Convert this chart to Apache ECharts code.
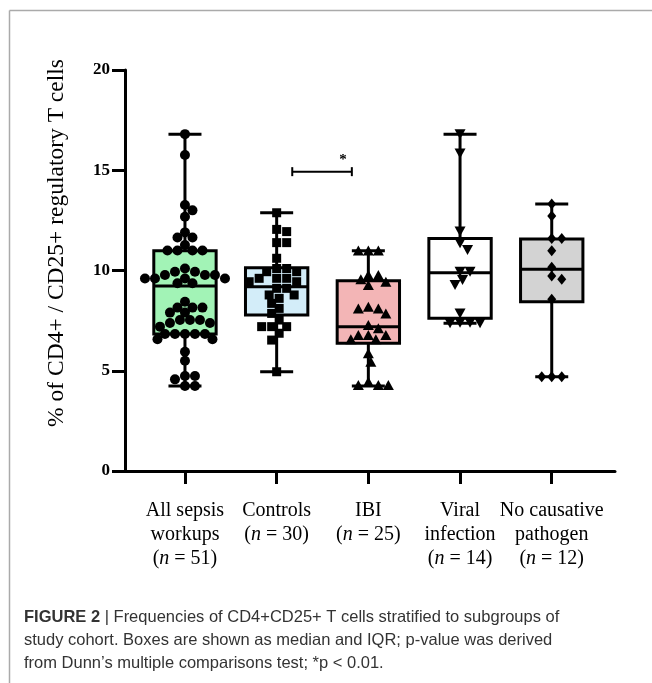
<!DOCTYPE html>
<html><head><meta charset="utf-8">
<script src="https://cdn.jsdelivr.net/npm/echarts@6/dist/echarts.min.js"></script>
<style>html,body{margin:0;padding:0;background:#fff}#c{width:652px;height:683px}</style>
</head><body><div id="c"></div>
<script>
// ---- data ----
const categoryLines = [['All sepsis','workups'],['Controls'],['IBI'],['Viral','infection'],['No causative','pathogen']];
const groupN = [51, 30, 25, 14, 12];
const boxMin    = [4.24, 4.95, 4.24, 7.37, 4.70];
const boxQ1     = [6.83, 7.78, 6.37, 7.62, 8.44];
const boxMedian = [9.23, 9.19, 7.20, 9.89, 10.06];
const boxQ3     = [10.99, 10.14, 9.49, 11.60, 11.57];
const boxMax    = [16.80, 12.88, 10.99, 16.80, 13.32];
const boxColors = ['#a2f3b6', '#d3edf9', '#f3b5b6', '#ffffff', '#d3d3d3'];

const allSepsis = [16.8,15.76,13.27,13.0,12.68,11.9,11.65,11.65,11.27,11.0,11.0,11.0,11.0,10.1,9.94,9.94,9.78,9.78,9.78,9.6,9.6,9.6,9.6,9.36,9.36,8.44,8.15,8.15,8.15,7.9,7.9,7.53,7.53,7.53,7.38,7.38,7.2,6.83,6.83,6.83,6.83,6.83,6.57,6.57,5.95,5.5,4.74,4.74,4.57,4.24,4.24];
const controls = [12.88,12.05,11.94,11.39,11.39,10.61,10.1,10.1,9.94,9.94,9.61,9.61,9.61,9.44,9.44,9.11,9.11,8.78,8.78,8.61,8.36,8.11,7.86,7.53,7.2,7.2,7.2,6.87,6.53,4.95];
const ibi = [11.0,11.0,11.0,9.78,9.78,9.56,9.44,9.28,8.19,8.11,8.11,7.86,7.28,7.12,6.78,6.78,6.78,6.57,6.57,5.87,5.45,4.45,4.29,4.29,4.29];
const viral = [16.8,15.84,11.94,11.36,11.02,9.94,9.94,9.53,9.28,7.86,7.4,7.4,7.37,7.37];
const noCause = [13.32,12.72,11.6,11.6,10.99,10.16,9.73,9.56,8.56,4.7,4.7,4.7];
const groupPoints = [allSepsis, controls, ibi, viral, noCause];
const groupSymbols = ['circle', 'rect', 'triangle', 'triangle', 'diamond'];
const groupSymbolRotate = [0, 0, 0, 180, 0];
const groupSymbolSize = [10, 9, [11, 10], [11, 10], [9, 11]];

const yTicks = [0, 5, 10, 15, 20];
const sigFrom = 1.17, sigTo = 1.82, sigY = 14.93, sigLabel = '*';

const yTitle = '% of CD4+ / CD25+ regulatory T cells';
const captionBold = 'FIGURE 2';
const captionLines = [' | Frequencies of CD4+CD25+ T cells stratified to subgroups of',
  'study cohort. Boxes are shown as median and IQR; p-value was derived',
  'from Dunn\u2019s multiple comparisons test; *p < 0.01.'];

// ---- chart ----
const chart = echarts.init(document.getElementById('c'));
const serif = '"Liberation Serif","Times New Roman",serif';
const sans = '"Liberation Sans",Arial,sans-serif';

function labelFor(i) {
  return categoryLines[i].map(l => '{t|' + l + '}').join('\n') + '\n{t|(}{i|n}{t| = ' + groupN[i] + ')}';
}

const boxData = boxMin.map((m, i) => [i, boxMin[i], boxQ1[i], boxMedian[i], boxQ3[i], boxMax[i]]);

function renderBox(params, api) {
  const x = api.value(0);
  const band = api.size([1, 0])[0];
  const bw = band * 0.68, cw = band * 0.36;
  const pMin = api.coord([x, api.value(1)]);
  const pQ1 = api.coord([x, api.value(2)]);
  const pMed = api.coord([x, api.value(3)]);
  const pQ3 = api.coord([x, api.value(4)]);
  const pMax = api.coord([x, api.value(5)]);
  const cx = pMed[0];
  const ls = {stroke: '#000', lineWidth: 3};
  return {type: 'group', children: [
    {type: 'line', shape: {x1: cx, y1: pMax[1], x2: cx, y2: pMin[1]}, style: ls},
    {type: 'line', shape: {x1: cx - cw/2, y1: pMax[1], x2: cx + cw/2, y2: pMax[1]}, style: ls},
    {type: 'line', shape: {x1: cx - cw/2, y1: pMin[1], x2: cx + cw/2, y2: pMin[1]}, style: ls},
    {type: 'rect', shape: {x: cx - bw/2, y: pQ3[1], width: bw, height: pQ1[1] - pQ3[1]},
      style: {fill: boxColors[params.dataIndex], stroke: '#000', lineWidth: 3}},
    {type: 'line', shape: {x1: cx - bw/2, y1: pMed[1], x2: cx + bw/2, y2: pMed[1]}, style: ls}
  ]};
}

function renderSig(params, api) {
  const a = api.coord([api.value(0), api.value(2)]);
  const b = api.coord([api.value(1), api.value(2)]);
  const s = {stroke: '#000', lineWidth: 2};
  const starX = a[0] + 0.85 * (b[0] - a[0]);
  return {type: 'group', children: [
    {type: 'line', shape: {x1: a[0], y1: a[1], x2: b[0], y2: b[1]}, style: s},
    {type: 'line', shape: {x1: a[0], y1: a[1] - 4.5, x2: a[0], y2: a[1] + 4.5}, style: s},
    {type: 'line', shape: {x1: b[0], y1: b[1] - 4.5, x2: b[0], y2: b[1] + 4.5}, style: s},
    {type: 'text', x: starX, y: a[1] - 12, style: {text: sigLabel, fill: '#000', font: 'bold 15px ' + serif, align: 'center', verticalAlign: 'middle'}}
  ]};
}

const option = {
  animation: false,
  backgroundColor: '#fff',
  grid: {left: 125, right: 37, top: 70, bottom: 212, containLabel: false, outerBoundsMode: 'none'},
  xAxis: {
    type: 'value', min: -0.654, max: 4.69,
    splitLine: {show: false},
    axisLine: {show: true, onZero: false, lineStyle: {color: '#000', width: 3}},
    axisTick: {show: true, customValues: [0, 1, 2, 3, 4], length: 13, lineStyle: {color: '#000', width: 3}},
    axisLabel: {
      customValues: [0, 1, 2, 3, 4], margin: 28,
      formatter: v => labelFor(Math.round(v)),
      rich: {
        t: {fontFamily: serif, fontSize: 20, lineHeight: 24, color: '#000'},
        i: {fontFamily: serif, fontSize: 20, lineHeight: 24, color: '#000', fontStyle: 'italic'}
      }
    }
  },
  yAxis: {
    type: 'value', min: 0, max: 20, interval: 5,
    splitLine: {show: false},
    axisLine: {show: true, onZero: false, lineStyle: {color: '#000', width: 3}},
    axisTick: {show: true, length: 13, lineStyle: {color: '#000', width: 3}},
    axisLabel: {color: '#000', fontFamily: serif, fontWeight: 'bold', fontSize: 17, margin: 15,
      formatter: v => yTicks.indexOf(v) >= 0 ? String(v) : ''}
  },
  graphic: [
    {type: 'line', shape: {x1: 9.5, y1: 10.5, x2: 652, y2: 10.5}, style: {stroke: '#aaa', lineWidth: 1.5}},
    {type: 'line', shape: {x1: 9.5, y1: 10.5, x2: 9.5, y2: 683}, style: {stroke: '#aaa', lineWidth: 1.5}},
    {type: 'text', x: 57, y: 243, rotation: Math.PI / 2,
      style: {text: yTitle, font: '23.5px ' + serif, fill: '#000', align: 'center', verticalAlign: 'middle'}},
    {type: 'text', x: 24, y: 606,
      style: {
        text: '{b|' + captionBold + '}{r|' + captionLines[0] + '}\n{r|' + captionLines[1] + '}\n{r|' + captionLines[2] + '}',
        rich: {
          b: {fontFamily: sans, fontWeight: 'bold', fontSize: 16.5, lineHeight: 23, fill: '#333'},
          r: {fontFamily: sans, fontSize: 16.5, lineHeight: 23, fill: '#333'}
        }
      }}
  ],
  series: [
    {type: 'custom', renderItem: renderBox, data: boxData, z: 2, encode: {x: 0, y: [1, 2, 3, 4, 5]}},
    {type: 'custom', renderItem: renderSig, data: [[sigFrom, sigTo, sigY]], z: 2, encode: {x: [0, 1], y: 2}}
  ].concat(groupPoints.map((pts, i) => ({
    type: 'scatter', symbol: groupSymbols[i], symbolRotate: groupSymbolRotate[i], symbolSize: groupSymbolSize[i],
    itemStyle: {color: '#000', opacity: 1}, z: 5,
    data: pts.map(v => [i, v])
  })))
};
chart.setOption(option);

// beeswarm layout computed in pixel space through the axes
function swarm(values, catIdx, diam, step) {
  const placed = [];
  const out = [];
  const c0 = chart.convertToPixel({gridIndex: 0}, [catIdx, 0]);
  const c1 = chart.convertToPixel({gridIndex: 0}, [catIdx + 1, 0]);
  const pxPerX = c1[0] - c0[0];
  const sorted = values.slice().sort((a, b) => b - a);
  for (const v of sorted) {
    const py = chart.convertToPixel({gridIndex: 0}, [catIdx, v])[1];
    let off = 0;
    for (let k = 0; k < 60; k++) {
      const cand = (k % 2 === 1 ? 1 : -1) * Math.ceil(k / 2) * step;
      const ok = placed.every(p => (p[0] - cand) * (p[0] - cand) + (p[1] - py) * (p[1] - py) >= diam * diam);
      if (ok) { off = cand; break; }
    }
    placed.push([off, py]);
    out.push([catIdx + off / pxPerX, v]);
  }
  return out;
}
const swarmSeries = groupPoints.map((pts, i) => ({data: swarm(pts, i, 8.5, 2.5)}));
chart.setOption({series: [{}, {}].concat(swarmSeries)});
</script></body></html>
